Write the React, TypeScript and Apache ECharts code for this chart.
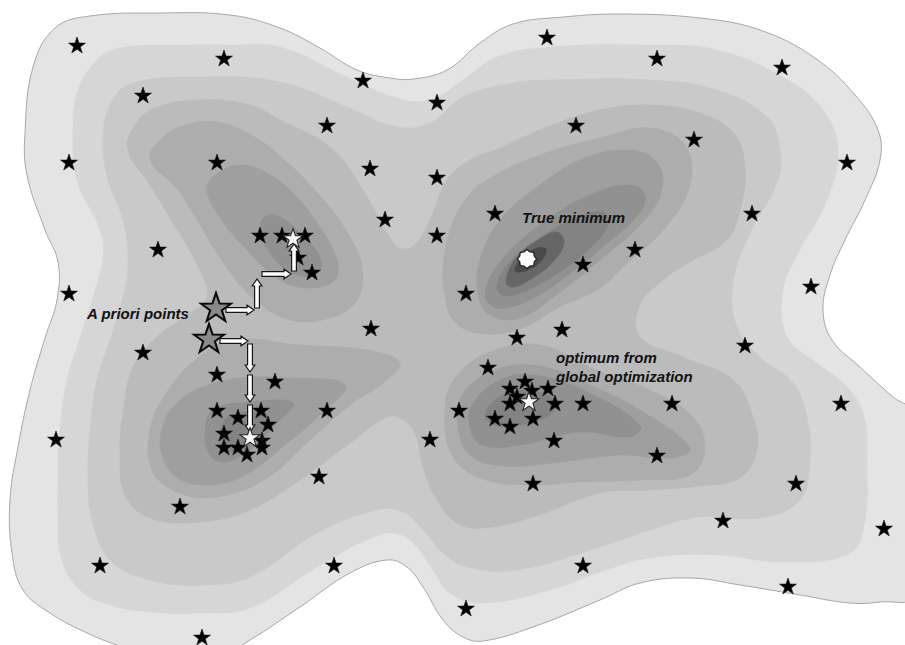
import React, { useEffect, useRef } from "react";
import * as echarts from "echarts";

const W = 905;
const H = 645;

// Filled contour levels of the objective surface, lightest (outer) to darkest.
const levelFills = [
  "#e4e4e4",
  "#d6d6d6",
  "#c9c9c9",
  "#bbbbbb",
  "#adadad",
  "#9f9f9f",
  "#919191",
  "#838383",
  "#666666",
  "#4a4a4a",
];

// Outer level sets enclose the whole landscape.
const level0 = [
  [55, 28], [90, 16], [160, 13], [230, 15], [280, 28], [320, 48], [357, 70], [390, 78], [413, 79],
  [447, 70], [480, 43], [513, 24], [563, 17], [620, 14], [700, 18], [760, 30], [815, 58], [855, 95],
  [878, 130], [880, 160], [865, 200], [845, 240], [830, 275], [823, 310], [832, 340], [860, 367],
  [893, 397], [915, 415], [915, 595], [880, 602], [850, 603], [800, 595], [740, 585], [690, 578],
  [640, 583], [600, 600], [533, 627], [483, 641], [463, 637], [443, 620], [423, 587], [407, 567],
  [387, 560], [350, 573], [300, 607], [250, 640], [220, 655], [150, 655], [117, 645], [87, 633],
  [50, 613], [23, 590], [12, 553], [10, 500], [18, 447], [30, 390], [45, 338], [57, 300], [58, 262],
  [45, 230], [27, 175], [25, 133], [33, 67],
];
const level1 = [
  [97, 60], [120, 48], [180, 45], [233, 45], [280, 47], [347, 77], [397, 98], [430, 100], [463, 80],
  [497, 57], [550, 47], [650, 45], [717, 50], [783, 77], [823, 110], [838, 150], [827, 200], [800, 250],
  [783, 290], [787, 337], [817, 363], [850, 390], [865, 420], [867, 460], [865, 520], [850, 553],
  [783, 562], [717, 555], [650, 558], [600, 572], [550, 590], [483, 603], [450, 593], [433, 570],
  [413, 543], [393, 533], [367, 540], [317, 567], [250, 608], [200, 613], [150, 612], [110, 605],
  [80, 590], [62, 560], [58, 520], [58, 480], [60, 430], [67, 380], [77, 347], [93, 297], [103, 257],
  [100, 230], [77, 180], [73, 130], [78, 90],
];
const level2 = [
  [110, 105], [130, 84], [200, 77], [280, 82], [347, 107], [397, 127], [430, 123], [463, 97], [513, 83],
  [550, 80], [650, 80], [717, 90], [767, 117], [780, 150], [777, 183], [750, 233], [733, 283], [737, 327],
  [760, 357], [793, 383], [807, 417], [810, 460], [800, 500], [760, 518], [700, 517], [650, 530],
  [600, 547], [517, 570], [467, 567], [443, 553], [423, 530], [403, 512], [377, 510], [317, 533],
  [250, 577], [200, 585], [150, 580], [110, 560], [92, 520], [88, 480], [90, 430], [97, 380], [110, 340],
  [123, 297], [128, 263], [123, 220], [108, 180], [103, 140],
];
// The X-shaped level joining the four basins through the saddle.
const level3 = [
  [135, 125], [155, 108], [200, 100], [250, 105], [280, 120], [330, 147], [363, 190], [390, 238],
  [403, 249], [417, 243], [432, 215], [447, 180], [470, 160], [500, 148], [547, 127], [600, 110],
  [650, 105], [700, 113], [735, 135], [745, 170], [740, 210], [727, 240], [690, 262], [667, 277],
  [640, 305], [640, 337], [683, 357], [733, 380], [753, 417], [757, 450], [740, 478], [700, 486],
  [650, 490], [600, 493], [533, 517], [483, 528], [457, 523], [437, 500], [423, 467], [415, 433],
  [400, 418], [385, 418], [350, 443], [300, 480], [250, 510], [200, 522], [150, 518], [125, 495],
  [120, 450], [123, 413], [133, 367], [157, 337], [187, 315], [207, 298], [200, 270], [173, 223],
  [150, 185], [128, 150],
];

// Upper-left basin.
const basinUL4 = [
  [150, 160], [160, 140], [185, 125], [217, 122], [253, 136], [287, 162], [320, 196], [347, 232],
  [362, 267], [357, 300], [330, 318], [290, 320], [255, 300], [225, 265], [200, 225], [178, 190],
];
const basinUL5 = [
  [207, 187], [220, 172], [240, 165], [265, 172], [290, 190], [320, 227], [337, 260], [335, 280],
  [310, 288], [280, 280], [247, 250], [217, 213],
];
const basinUL6 = [
  [262, 220], [275, 215], [300, 233], [320, 257], [318, 273], [293, 274], [273, 257], [262, 237],
];

// Upper-right basin holding the true minimum.
const basinUR4 = [
  [443, 267], [450, 230], [465, 200], [487, 180], [540, 155], [600, 138], [650, 128], [685, 145],
  [690, 185], [665, 228], [625, 265], [600, 288], [560, 307], [517, 330], [477, 333], [453, 320],
  [445, 295],
];
const basinUR5 = [
  [478, 295], [480, 260], [500, 220], [540, 185], [580, 160], [625, 150], [655, 160], [662, 190],
  [640, 225], [600, 260], [560, 292], [520, 318], [490, 315],
];
const basinUR6 = [
  [485, 295], [500, 262], [540, 225], [590, 195], [630, 185], [645, 195], [638, 215], [605, 245],
  [568, 275], [530, 300], [497, 308],
];
const basinUR7 = [
  [497, 285], [510, 262], [540, 238], [575, 218], [603, 212], [608, 225], [588, 250], [555, 275],
  [520, 293], [503, 295],
];
const basinUR8 = [
  [506, 282], [516, 258], [538, 240], [557, 232], [564, 243], [552, 263], [531, 279], [514, 287],
];
const basinUR9 = [
  [515, 271], [522, 258], [537, 248], [546, 249], [542, 260], [528, 270],
];

// Lower-right basin.
const basinLR4 = [
  [445, 410], [455, 378], [490, 352], [540, 345], [600, 372], [650, 390], [693, 417], [705, 450],
  [690, 475], [640, 480], [580, 482], [530, 485], [480, 478], [452, 455],
];
const basinLR5 = [
  [458, 425], [462, 395], [495, 370], [540, 366], [590, 385], [640, 410], [690, 448], [670, 458],
  [620, 455], [560, 462], [505, 466], [470, 455],
];
const basinLR6 = [
  [470, 428], [472, 405], [500, 380], [533, 375], [583, 390], [640, 425], [630, 437], [580, 432],
  [520, 445], [482, 445],
];
const basinLR7 = [
  [485, 415], [498, 398], [525, 390], [555, 400], [550, 415], [520, 425], [495, 425],
];

// Lower-left basin.
const basinLL4 = [
  [195, 360], [233, 340], [300, 345], [367, 350], [400, 363], [383, 383], [350, 405], [310, 440],
  [267, 478], [217, 497], [177, 492], [152, 470], [150, 430], [165, 395],
];
const basinLL5 = [
  [178, 402], [200, 388], [240, 378], [290, 378], [345, 385], [320, 415], [285, 445], [245, 475],
  [210, 485], [178, 478], [162, 455], [163, 425],
];
const basinLL6 = [
  [205, 432], [213, 410], [250, 402], [293, 403], [275, 425], [250, 450], [225, 462], [210, 455],
];
const basinLL7 = [
  [222, 445], [225, 420], [250, 412], [270, 418], [255, 440], [235, 452],
];

// Sampled design points.
const samplePoints = [
  [77, 45], [224, 58], [547, 37], [657, 58], [782, 67], [363, 80], [143, 95], [437, 102], [327, 125],
  [576, 125], [694, 139], [69, 162], [217, 162], [370, 168], [437, 177], [847, 162], [495, 213],
  [752, 213], [385, 219], [437, 235],
  [260, 235], [282, 235], [305, 235], [298, 257], [312, 272],
  [158, 249], [635, 249], [583, 264], [466, 293], [811, 286], [69, 293],
  [371, 328], [517, 337], [562, 329], [143, 352], [745, 345],
  [217, 374], [275, 381], [217, 410], [327, 410], [56, 439], [430, 439],
  [238, 417], [261, 410], [268, 424], [224, 433], [262, 440], [224, 447], [238, 447], [247, 454],
  [262, 447],
  [319, 476], [180, 506], [100, 565], [334, 565], [202, 637],
  [488, 367], [525, 381], [510, 388], [532, 390], [548, 388], [510, 403], [555, 403], [583, 403],
  [495, 418], [533, 418], [510, 426], [517, 396],
  [459, 410], [672, 403], [841, 403], [554, 440], [657, 455], [533, 483], [796, 483], [723, 520],
  [884, 528], [583, 565], [788, 586], [466, 608],
];
const aprioriPoints = [
  [216, 307],
  [209, 338],
];
const localOptima = [
  [293, 238],
  [250, 437],
  [529, 401],
];
const trueMinimum = [[527, 259]];

// Local search moves from each a priori point: [x0, y0, x1, y1].
const searchMoves = [
  [226, 310, 254, 310],
  [257, 308, 257, 279],
  [262, 274, 291, 274],
  [294, 271, 294, 244],
  [220, 341, 248, 341],
  [250, 344, 250, 372],
  [250, 375, 250, 402],
  [250, 405, 250, 432],
];

const contours: { level: number; pts: number[][] }[] = [
  { level: 0, pts: level0 },
  { level: 1, pts: level1 },
  { level: 2, pts: level2 },
  { level: 3, pts: level3 },
  { level: 4, pts: basinUL4 },
  { level: 5, pts: basinUL5 },
  { level: 6, pts: basinUL6 },
  { level: 4, pts: basinUR4 },
  { level: 5, pts: basinUR5 },
  { level: 6, pts: basinUR6 },
  { level: 7, pts: basinUR7 },
  { level: 8, pts: basinUR8 },
  { level: 9, pts: basinUR9 },
  { level: 4, pts: basinLR4 },
  { level: 5, pts: basinLR5 },
  { level: 6, pts: basinLR6 },
  { level: 7, pts: basinLR7 },
  { level: 4, pts: basinLL4 },
  { level: 5, pts: basinLL5 },
  { level: 6, pts: basinLL6 },
  { level: 7, pts: basinLL7 },
];

function starPath(n: number, rOut: number, rIn: number): string {
  const parts: string[] = [];
  for (let i = 0; i < n * 2; i++) {
    const r = i % 2 === 0 ? rOut : rIn;
    const a = -Math.PI / 2 + (i * Math.PI) / n;
    parts.push(`${i === 0 ? "M" : "L"}${(r * Math.cos(a)).toFixed(3)},${(r * Math.sin(a)).toFixed(3)}`);
  }
  return "path://" + parts.join("") + "Z";
}

const STAR5 = starPath(5, 10, 3.9);
const BURST8 = starPath(8, 10, 8.2);

const labelFont = {
  fontFamily: '"Liberation Sans", Arial, sans-serif',
  fontSize: 15,
  fontWeight: "bold" as const,
  fontStyle: "italic" as const,
  fill: "#111111",
};

export default function App() {
  const ref = useRef<HTMLDivElement>(null);

  useEffect(() => {
    if (!ref.current) return;
    const chart = echarts.init(ref.current, undefined, { renderer: "svg" });

    chart.setOption({
      animation: false,
      backgroundColor: "#ffffff",
      grid: { left: 0, right: 0, top: 0, bottom: 0 },
      xAxis: { type: "value", min: 0, max: W, show: false },
      yAxis: { type: "value", min: 0, max: H, inverse: true, show: false },
      series: [
        {
          type: "custom",
          name: "levels",
          silent: true,
          clip: true,
          data: contours.map((c) => c.pts[0]),
          renderItem: (params: any, api: any) => {
            const c = contours[params.dataIndex];
            const points = c.pts.map((p) => api.coord(p));
            return {
              type: "polygon",
              shape: { points, smooth: 0.4 },
              style: {
                fill: levelFills[c.level],
                stroke: c.level === 0 ? "#a8a8a8" : levelFills[c.level],
                lineWidth: c.level === 0 ? 1 : 0.6,
              },
            };
          },
          z: 1,
        },
        {
          type: "scatter",
          name: "samples",
          data: samplePoints,
          symbol: STAR5,
          symbolSize: [17, 16],
          itemStyle: { color: "#000000", borderColor: "#1a1a1a", borderWidth: 0.6, opacity: 1 },
          silent: true,
          z: 2,
        },
        {
          type: "custom",
          name: "moves",
          silent: true,
          data: searchMoves,
          encode: { x: [0, 2], y: [1, 3] },
          renderItem: (params: any, api: any) => {
            const m = searchMoves[params.dataIndex];
            const a = api.coord([m[0], m[1]]);
            const b = api.coord([m[2], m[3]]);
            const dx = b[0] - a[0];
            const dy = b[1] - a[1];
            const len = Math.hypot(dx, dy) || 1;
            const ux = dx / len;
            const uy = dy / len;
            const nx = -uy;
            const ny = ux;
            const sw = 2.4;
            const hw = 4.8;
            const hl = 7;
            const bx = b[0] - ux * hl;
            const by = b[1] - uy * hl;
            const points = [
              [a[0] + nx * sw, a[1] + ny * sw],
              [bx + nx * sw, by + ny * sw],
              [bx + nx * hw, by + ny * hw],
              [b[0], b[1]],
              [bx - nx * hw, by - ny * hw],
              [bx - nx * sw, by - ny * sw],
              [a[0] - nx * sw, a[1] - ny * sw],
            ];
            return {
              type: "polygon",
              shape: { points },
              style: { fill: "#ffffff", stroke: "#151515", lineWidth: 1.2 },
            };
          },
          z: 3,
        },
        {
          type: "scatter",
          name: "a priori",
          data: aprioriPoints,
          symbol: STAR5,
          symbolSize: [30, 28],
          itemStyle: { color: "#8a8a8a", borderColor: "#0a0a0a", borderWidth: 2, opacity: 1 },
          silent: true,
          z: 4,
        },
        {
          type: "scatter",
          name: "local optima",
          data: localOptima,
          symbol: STAR5,
          symbolSize: [20, 19],
          itemStyle: { color: "#f8f8f8", borderColor: "#222222", borderWidth: 1, opacity: 1 },
          silent: true,
          z: 5,
        },
        {
          type: "scatter",
          name: "true minimum",
          data: trueMinimum,
          symbol: BURST8,
          symbolSize: 19,
          itemStyle: { color: "#fcfcfc", borderColor: "#1e1e1e", borderWidth: 1.2, opacity: 1 },
          silent: true,
          z: 5,
        },
      ],
      graphic: [
        { type: "text", left: 87, top: 306, z: 10, style: { ...labelFont, text: "A priori points" } },
        { type: "text", left: 522, top: 210, z: 10, style: { ...labelFont, text: "True minimum" } },
        { type: "text", left: 556, top: 350, z: 10, style: { ...labelFont, text: "optimum from" } },
        { type: "text", left: 556, top: 369, z: 10, style: { ...labelFont, text: "global optimization" } },
      ],
    });

    return () => chart.dispose();
  }, []);

  return (
    <div
      ref={ref}
      style={{ position: "fixed", left: 0, top: 0, width: W, height: H, background: "#ffffff" }}
    />
  );
}
